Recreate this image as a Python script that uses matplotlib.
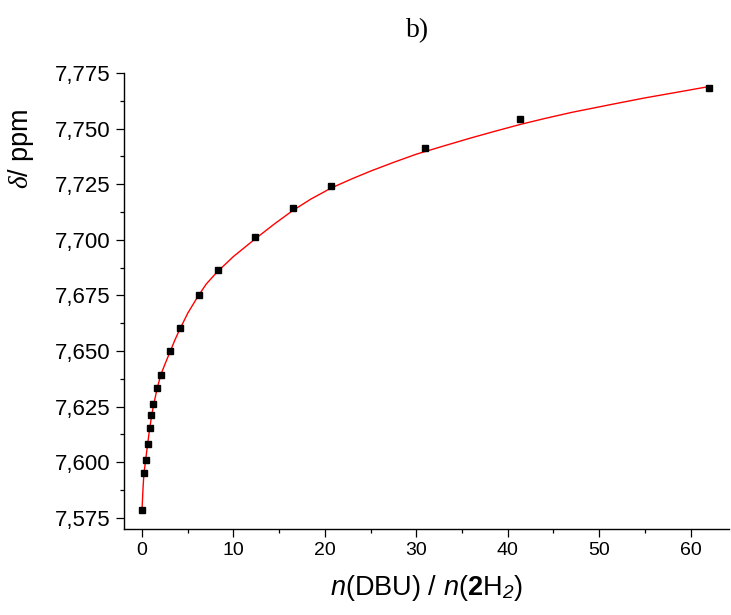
import matplotlib
matplotlib.use("Agg")
import matplotlib.pyplot as plt
from matplotlib.ticker import MultipleLocator, FuncFormatter

# measured points: n(DBU)/n(2H2) vs chemical shift
ratio = [0, 0.21, 0.41, 0.62, 0.83, 1.03, 1.24, 1.65, 2.07, 3.10, 4.13,
         6.20, 8.27, 12.4, 16.5, 20.7, 31.0, 41.3, 62.0]
shift = [7.5785, 7.5953, 7.6011, 7.6083, 7.6153, 7.6213, 7.6263, 7.6333,
         7.6392, 7.6502, 7.6603, 7.6753, 7.6865, 7.7013, 7.7142, 7.7242,
         7.7413, 7.7543, 7.7682]

# fitted curve
fit_x = [0, 0.1, 0.2, 0.4, 0.6, 0.8, 1.0, 1.25, 1.65, 2.05, 2.5, 3.1, 3.6,
         4.1, 5.0, 6.0, 7.0, 8.2, 10.0, 12.4, 14.5, 16.5, 18.5, 20.7, 23.0,
         25.0, 27.5, 30.0, 33.0, 35.8, 38.5, 41.3, 44.0, 47.0, 51.5, 55.0,
         59.0, 62.0]
fit_y = [7.5785, 7.5875, 7.5945, 7.6012, 7.6077, 7.6140, 7.6195, 7.6255,
         7.6330, 7.6393, 7.6440, 7.6500, 7.6550, 7.6595, 7.6670, 7.6738,
         7.6800, 7.6855, 7.6925, 7.7005, 7.7072, 7.7132, 7.7184, 7.7233,
         7.7275, 7.7309, 7.7348, 7.7385, 7.7422, 7.7456, 7.7487, 7.7518,
         7.7545, 7.7573, 7.7610, 7.7638, 7.7667, 7.7689]

plt.rcParams['font.family'] = ['Liberation Sans', 'DejaVu Sans']
plt.rcParams['mathtext.fontset'] = 'custom'
plt.rcParams['mathtext.rm'] = 'Liberation Sans'
plt.rcParams['mathtext.sf'] = 'Liberation Sans:italic'
plt.rcParams['mathtext.it'] = 'Liberation Serif:italic'
plt.rcParams['mathtext.bf'] = 'Liberation Sans:bold'

fig = plt.figure(figsize=(7.31, 6.15), dpi=100)
ax = fig.add_axes([124 / 731, 86 / 615, 605 / 731, 456 / 615])

ax.plot(fit_x, fit_y, color="red", linewidth=1.0, solid_joinstyle="round", zorder=2)
ax.plot(ratio, shift, linestyle="none", marker="s", markersize=5,
        color="black", zorder=3)

ax.set_xlim(-1.97, 64.2)
ax.set_ylim(7.570, 7.775)

ax.xaxis.set_major_locator(MultipleLocator(10))
ax.xaxis.set_minor_locator(MultipleLocator(5))
ax.yaxis.set_major_locator(MultipleLocator(0.025))
ax.yaxis.set_minor_locator(MultipleLocator(0.0125))
ax.yaxis.set_major_formatter(FuncFormatter(lambda v, p: f"{v:.3f}".replace(".", ",")))

for side in ("top", "right"):
    ax.spines[side].set_visible(False)
for side in ("left", "bottom"):
    ax.spines[side].set_linewidth(1.0)

ax.tick_params(which="major", direction="out", length=6, width=0.9)
ax.tick_params(which="minor", direction="out", length=3, width=0.9)
ax.tick_params(axis="x", labelsize=14)
ax.tick_params(axis="y", labelsize=16)

ax.set_xlabel(r"$\mathsf{n}$(DBU) / $\mathsf{n}$($\mathbf{2}$H$_{\mathsf{2}}$)", fontsize=19.5, labelpad=10)
ax.set_ylabel(r"$\delta$/ ppm", fontsize=19.5)
ax.yaxis.set_label_coords(-0.145, 0.835)

fig.text(418 / 731, 1 - 31 / 615, "b)", family="Liberation Serif", fontsize=20,
         ha="center", va="center")

fig.savefig("out.png", dpi=100)
